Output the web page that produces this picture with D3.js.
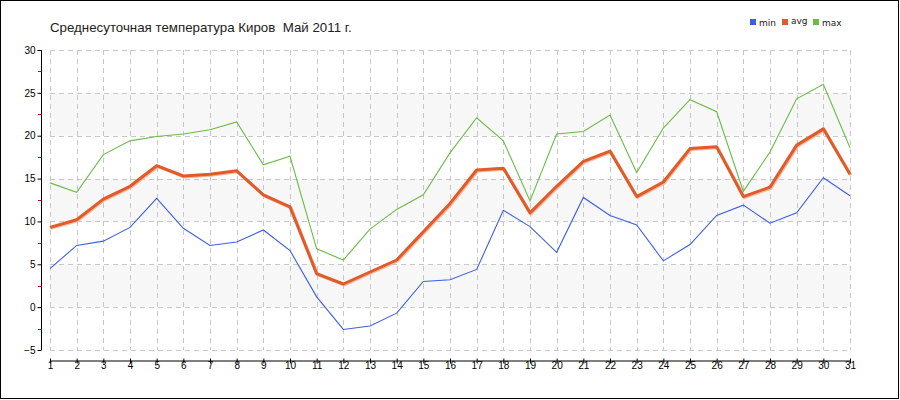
<!DOCTYPE html>
<html><head><meta charset="utf-8">
<script src="https://cdn.jsdelivr.net/npm/d3@7"></script>
<style>body{margin:0;background:#fff}svg{display:block}</style>
</head><body>
<script>
const title = "Среднесуточная температура Киров  Май 2011 г.";
const days = d3.range(1, 32);
const minT = [4.5,7.2,7.7,9.3,12.7,9.2,7.2,7.6,9.0,6.6,1.2,-2.6,-2.2,-0.7,3.0,3.2,4.4,11.3,9.4,6.4,12.8,10.7,9.6,5.4,7.3,10.7,11.9,9.8,11.0,15.1,13.0];
const avgT = [9.3,10.2,12.6,14.1,16.5,15.3,15.5,15.9,13.1,11.7,3.9,2.7,4.1,5.5,8.8,12.1,16.0,16.2,11.0,14.1,17.0,18.2,12.9,14.6,18.5,18.7,12.9,14.0,18.9,20.8,15.5];
const maxT = [14.5,13.4,17.8,19.4,19.9,20.2,20.7,21.6,16.6,17.6,6.8,5.5,9.1,11.4,13.1,18.0,22.1,19.4,12.4,20.2,20.5,22.4,15.7,20.9,24.2,22.8,13.5,18.1,24.3,26.0,18.6];
const yTicks = [-5,0,5,10,15,20,25,30];
const yMinor = [-2.5,2.5,7.5,12.5,17.5,22.5,27.5];
const seriesNames = ["min","avg","max"];
const seriesColors = ["#3e5fe0","#e15a27","#6cbb47"];

const W=900,H=400;
const svg=d3.select("body").append("svg").attr("width",W).attr("height",H);
svg.append("rect").attr("x",0.5).attr("y",0.5).attr("width",W-2).attr("height",H-2)
  .attr("fill","#fff").attr("stroke","#000");

const x=d3.scaleLinear().domain([1,31]).range([50,850]);
const y=d3.scaleLinear().domain([-5,30]).range([350,50]);

// bands
const bands=[[0,5],[10,15],[20,25]];
svg.selectAll(".band").data(bands).enter().append("rect")
  .attr("x",x(1)).attr("width",x(31)-x(1))
  .attr("y",d=>y(d[1])).attr("height",d=>y(d[0])-y(d[1]))
  .attr("fill","#f7f7f7");

// grid
const g=svg.append("g").attr("stroke","#c8c8c8").attr("stroke-dasharray","5,4").attr("shape-rendering","crispEdges");
days.forEach(d=>g.append("line").attr("x1",Math.round(x(d))+0.5).attr("x2",Math.round(x(d))+0.5).attr("y1",y(30)).attr("y2",y(-5)));
yTicks.forEach(t=>g.append("line").attr("x1",x(1)).attr("x2",x(31)).attr("y1",Math.round(y(t))+0.5).attr("y2",Math.round(y(t))+0.5));

// y axis
const ya=svg.append("g").attr("transform","translate(41.5,0)")
  .call(d3.axisLeft(y).tickValues(yTicks).tickSize(4).tickPadding(2).tickFormat(d3.format("d")));
ya.select(".domain").attr("stroke","#000").attr("d",`M0,${y(30)}V${y(-5)}`);
ya.selectAll(".tick line").attr("stroke","#000");
ya.selectAll("text").attr("font-family","Liberation Sans, Arial, sans-serif").attr("font-size",10).attr("fill","#000");
yMinor.forEach(t=>svg.append("line").attr("x1",38).attr("x2",41).attr("y1",Math.round(y(t))+0.5).attr("y2",Math.round(y(t))+0.5).attr("stroke","#e00000"));

// x axis
const xa=svg.append("g").attr("transform","translate(0,360.5)")
  .call(d3.axisBottom(x).tickValues(days).tickSizeInner(3).tickSizeOuter(0).tickPadding(0).tickFormat(d3.format("d")));
xa.select(".domain").attr("stroke","#000");
xa.selectAll(".tick line").attr("stroke","#000").attr("y1",-2).attr("y2",3);
xa.selectAll("text").attr("font-family","Liberation Sans, Arial, sans-serif").attr("font-size",10).attr("fill","#000").attr("dy","0.71em").attr("y",1);

const line=d3.line().x((d,i)=>x(days[i])).y(d=>y(d));
// min
svg.append("path").attr("d",line(minT)).attr("fill","none").attr("stroke",seriesColors[0]).attr("stroke-width",1.1);
// max
svg.append("path").attr("d",line(maxT)).attr("fill","none").attr("stroke",seriesColors[2]).attr("stroke-width",1.1);
// avg shadow + line
svg.append("path").attr("d",line(avgT)).attr("fill","none").attr("stroke","#f3b9a0").attr("stroke-width",3).attr("transform","translate(1,1)");
svg.append("path").attr("d",line(avgT)).attr("fill","none").attr("stroke",seriesColors[1]).attr("stroke-width",3).attr("stroke-linejoin","round");

// title
svg.append("text").attr("x",50).attr("y",32).text(title).style("white-space","pre")
  .attr("font-family","Liberation Sans, Arial, sans-serif").attr("font-size",13.3).attr("fill","#222");

// legend
const lx=[750,782,813];
seriesNames.forEach((n,i)=>{
  svg.append("rect").attr("x",lx[i]).attr("y",19).attr("width",6).attr("height",6).attr("fill",seriesColors[i]);
  svg.append("text").attr("x",lx[i]+9).attr("y",i===1?24:26).text(n)
    .attr("font-family","DejaVu Sans, Verdana, sans-serif").attr("font-size",9).attr("fill","#222");
});
</script>
</body></html>
